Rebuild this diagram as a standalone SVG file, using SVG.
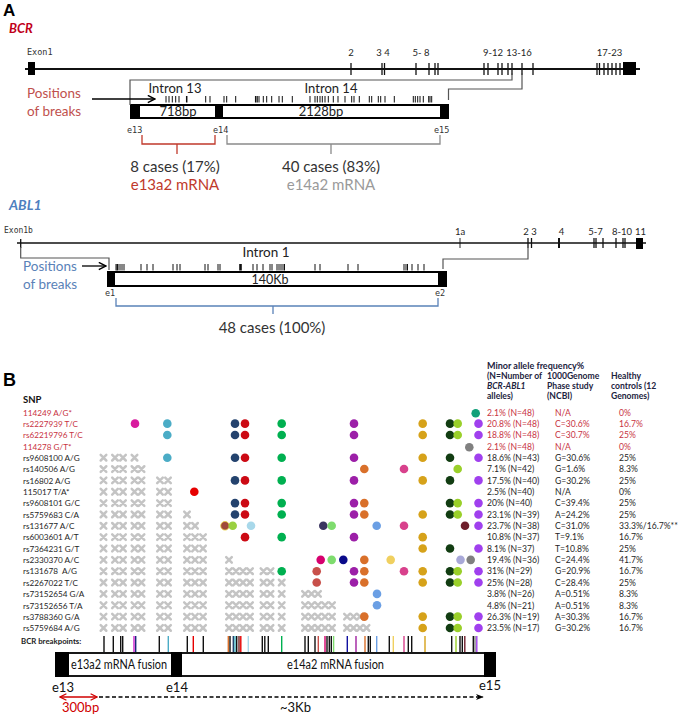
<svg xmlns="http://www.w3.org/2000/svg" xmlns:xlink="http://www.w3.org/1999/xlink" width="685" height="716" viewBox="0 0 685 716">
<style>
text{font-family:Lato,"Liberation Sans",sans-serif;fill:#262626}
.pl{font-family:"Liberation Sans",Arial,sans-serif;font-weight:bold;font-size:17px;fill:#000}
.mono{font-family:"DejaVu Sans Mono","Liberation Mono",monospace;font-size:8.5px;fill:#333}
.exl{font-size:9.5px;fill:#222}
.big{font-size:15px;fill:#333}
.mid{font-size:13px;fill:#222}
.red{fill:#c0392b}
.bred{fill:#c0504d}
.blu{fill:#5a82b8}
.gry{fill:#9a9a9a}
.snp{font-size:8.6px;fill:#1c2340}
.snp.r{fill:#c8333f}
.nm{font-size:8.2px}
.hd{font-size:8.6px;font-weight:bold;fill:#1c2340}
.gene{stroke:#111;fill:none}
.tk{stroke:#111;stroke-width:1.3}
.bt{stroke:#111;stroke-width:1}
.conn{stroke:#555;stroke-width:1.2;fill:none}
.box{fill:#fff;stroke:#000;stroke-width:2}
.blk{fill:#000}
.mg{fill:#d81b9e}.tb{fill:#4bacc6}.nv{fill:#24436e}.rd{fill:#cc0a14}.rd2{fill:#e60000}.gr{fill:#00b050}
.pu{fill:#9c1fa8}.or{fill:#d9702a}.pk{fill:#d8418c}.gd{fill:#d6a21a}.dg{fill:#123d12}.yg{fill:#9ad02a}
.vi{fill:#a040ee}.gy{fill:#808080}.tg{fill:#12a07a}.bn{fill:#a04a3c}.lm{fill:#9ad040}.lb{fill:#a8d8ea}
.ds{fill:#3a3560}.lg{fill:#7edc6e}.cf{fill:#6b9fe4}.mr{fill:#6e1f2c}.cr{fill:#d6006e}.nd{fill:#0a0a8a}
.py{fill:#f0d060}.lv{fill:#a8a8d8}.sa{fill:#c8504a}
</style>
<defs>
<marker id="ah" viewBox="0 0 10 10" refX="9" refY="5" markerWidth="9" markerHeight="9" orient="auto" markerUnits="userSpaceOnUse"><path d="M1,1 L9,5 L1,9" fill="none" stroke="#000" stroke-width="1.6"/></marker>
<marker id="ahr" viewBox="0 0 10 10" refX="9" refY="5" markerWidth="8" markerHeight="8" orient="auto-start-reverse" markerUnits="userSpaceOnUse"><path d="M1,1 L9,5 L1,9" fill="none" stroke="#d00000" stroke-width="1.6"/></marker>
<marker id="ahf" viewBox="0 0 10 10" refX="9" refY="5" markerWidth="8" markerHeight="8" orient="auto" markerUnits="userSpaceOnUse"><path d="M0,1 L10,5 L0,9 L3,5 Z" fill="#000"/></marker>
<path id="x" d="M-2.8,-2.8L2.8,2.8M2.8,-2.8L-2.8,2.8" stroke="#c4c4c4" stroke-width="2.5" stroke-linecap="round" fill="none"/>
<g id="X4"><use xlink:href="#x" x="103.5"/><use xlink:href="#x" x="115"/><use xlink:href="#x" x="123"/><use xlink:href="#x" x="134.5"/></g>
<g id="X5"><use xlink:href="#X4"/><use xlink:href="#x" x="141.5"/></g>
<g id="X7"><use xlink:href="#X5"/><use xlink:href="#x" x="160"/><use xlink:href="#x" x="168"/></g>
<g id="X8"><use xlink:href="#X7"/><use xlink:href="#x" x="187"/></g>
<g id="X9"><use xlink:href="#X8"/><use xlink:href="#x" x="195"/></g>
<g id="X10"><use xlink:href="#X9"/><use xlink:href="#x" x="203"/></g>
<g id="X11"><use xlink:href="#X10"/><use xlink:href="#x" x="229"/></g>
<g id="X16"><use xlink:href="#X11"/><use xlink:href="#x" x="236"/><use xlink:href="#x" x="243"/><use xlink:href="#x" x="250"/><use xlink:href="#x" x="263.5"/><use xlink:href="#x" x="270.5"/></g>
<g id="X17"><use xlink:href="#X16"/><use xlink:href="#x" x="281.7"/></g>
<g id="X20"><use xlink:href="#X17"/><use xlink:href="#x" x="305"/><use xlink:href="#x" x="311.5"/><use xlink:href="#x" x="318"/></g>
<g id="X22"><use xlink:href="#X20"/><use xlink:href="#x" x="325"/><use xlink:href="#x" x="332"/></g>
<g id="X25"><use xlink:href="#X22"/><use xlink:href="#x" x="347"/><use xlink:href="#x" x="353.5"/><use xlink:href="#x" x="360"/></g>
<g id="X26"><use xlink:href="#X25"/><use xlink:href="#x" x="366.5"/></g>
</defs>
<rect width="685" height="716" fill="#fff"/>

<!-- ================= PANEL A ================= -->
<text class="pl" x="3" y="16">A</text>
<g id="bcr-title"><text x="9" y="33" style="font-size:13px;font-weight:bold;font-style:italic;fill:#c0001a">BCR</text></g>

<g id="bcr-gene">
<line class="gene" x1="25" y1="69" x2="640" y2="69" stroke-width="2"/>
<rect class="blk" x="28" y="62" width="7" height="13"/>
<rect class="blk" x="623" y="62" width="13" height="13"/>
<g class="tk">
<line x1="351" y1="63" x2="351" y2="75"/><line x1="382" y1="63" x2="382" y2="75"/><line x1="384.5" y1="63" x2="384.5" y2="75"/>
<line x1="416" y1="63" x2="416" y2="75"/><line x1="429" y1="63" x2="429" y2="75"/><line x1="435" y1="63" x2="435" y2="75"/><line x1="438" y1="63" x2="438" y2="75"/>
<line x1="484" y1="63" x2="484" y2="75"/><line x1="488" y1="63" x2="488" y2="75"/><line x1="498" y1="63" x2="498" y2="75"/><line x1="502" y1="63" x2="502" y2="75"/><line x1="508" y1="63" x2="508" y2="75"/><line x1="512" y1="63" x2="512" y2="75"/>
<line x1="522" y1="63" x2="522" y2="75"/><line x1="533" y1="63" x2="533" y2="75"/>
<line x1="597" y1="63" x2="597" y2="75"/><line x1="599.5" y1="63" x2="599.5" y2="75"/><line x1="604" y1="63" x2="604" y2="75"/><line x1="608" y1="63" x2="608" y2="75"/><line x1="612" y1="63" x2="612" y2="75"/><line x1="616" y1="63" x2="616" y2="75"/><line x1="620" y1="63" x2="620" y2="75"/>
</g>
<text class="mono" x="27" y="55">Exon1</text>
<g class="exl" text-anchor="middle">
<text x="351" y="56">2</text><text x="383" y="56">3 4</text><text x="421" y="56">5- 8</text><text x="493" y="56">9-12</text><text x="519" y="56">13-16</text><text x="609.5" y="56">17-23</text>
</g>
</g>

<g id="bcr-intron-box">
<rect class="box" x="131" y="105" width="317" height="13"/>
<rect class="blk" x="130" y="104" width="10" height="15"/>
<rect class="blk" x="215" y="104" width="8" height="15"/>
<rect class="blk" x="440" y="104" width="9" height="15"/>
<text class="mid" x="178" y="115.5" text-anchor="middle">718bp</text>
<text class="mid" x="321" y="115.5" text-anchor="middle">2128bp</text>
<text class="mid" x="175" y="93" text-anchor="middle">Intron 13</text>
<text class="mid" x="331" y="93" text-anchor="middle">Intron 14</text>
<g class="bt">
<line x1="166" y1="96" x2="166" y2="102.5"/><line x1="169" y1="96" x2="169" y2="102.5"/><line x1="172.3" y1="96" x2="172.3" y2="102.5"/><line x1="175.7" y1="96" x2="175.7" y2="102.5"/><line x1="179" y1="96" x2="179" y2="102.5"/><line x1="186.7" y1="96" x2="186.7" y2="102.5" stroke-width="1.5"/>
<line x1="205.7" y1="96" x2="205.7" y2="102.5"/><line x1="210" y1="96" x2="210" y2="102.5"/><line x1="224" y1="96" x2="224" y2="102.5"/><line x1="226.7" y1="96" x2="226.7" y2="102.5"/><line x1="235.7" y1="96" x2="235.7" y2="102.5"/>
<line x1="255.7" y1="96" x2="255.7" y2="102.5" stroke-width="1.5"/><line x1="257.3" y1="96" x2="257.3" y2="102.5"/><line x1="259" y1="96" x2="259" y2="102.5"/><line x1="263.3" y1="96" x2="263.3" y2="102.5"/><line x1="266.7" y1="96" x2="266.7" y2="102.5"/><line x1="271.7" y1="96" x2="271.7" y2="102.5"/>
<line x1="279" y1="96" x2="279" y2="102.5"/><line x1="282.3" y1="96" x2="282.3" y2="102.5"/><line x1="292.3" y1="96" x2="292.3" y2="102.5"/>
<line x1="310" y1="96" x2="310" y2="102.5"/><line x1="315" y1="96" x2="315" y2="102.5"/><line x1="317.3" y1="96" x2="317.3" y2="102.5"/><line x1="320" y1="96" x2="320" y2="102.5"/><line x1="322.3" y1="96" x2="322.3" y2="102.5"/><line x1="325" y1="96" x2="325" y2="102.5"/><line x1="328.3" y1="96" x2="328.3" y2="102.5"/>
<line x1="333.3" y1="96" x2="333.3" y2="102.5"/><line x1="338" y1="96" x2="338" y2="102.5"/><line x1="345" y1="96" x2="345" y2="102.5"/><line x1="351.7" y1="96" x2="351.7" y2="102.5"/><line x1="354" y1="96" x2="354" y2="102.5"/><line x1="359.3" y1="96" x2="359.3" y2="102.5"/>
<line x1="369.3" y1="96" x2="369.3" y2="102.5"/><line x1="371.7" y1="96" x2="371.7" y2="102.5"/><line x1="378.3" y1="96" x2="378.3" y2="102.5"/><line x1="380.7" y1="96" x2="380.7" y2="102.5"/><line x1="385" y1="96" x2="385" y2="102.5"/><line x1="394.3" y1="96" x2="394.3" y2="102.5"/>
<line x1="413.3" y1="96" x2="413.3" y2="102.5"/><line x1="415.3" y1="96" x2="415.3" y2="102.5"/><line x1="417.7" y1="96" x2="417.7" y2="102.5"/><line x1="420" y1="96" x2="420" y2="102.5"/><line x1="423.3" y1="96" x2="423.3" y2="102.5"/><line x1="428.7" y1="96" x2="428.7" y2="102.5"/><line x1="430" y1="96" x2="430" y2="102.5"/><line x1="431.7" y1="96" x2="431.7" y2="102.5"/>
</g>
<text class="mono" x="127" y="133">e13</text>
<text class="mono" x="213" y="133">e14</text>
<text class="mono" x="434" y="133">e15</text>
</g>

<g id="bcr-positions"><text class="bred" x="27" y="98" style="font-size:13.5px">Positions</text><text class="bred" x="27" y="116" style="font-size:13.5px">of breaks</text></g>

<g id="bcr-e13a2">
<text class="big" x="175" y="172" text-anchor="middle">8 cases (17%)</text>
<text class="big red" x="175" y="190" text-anchor="middle">e13a2 mRNA</text>
</g>
<g id="bcr-e14a2">
<text class="big" x="331" y="172" text-anchor="middle">40 cases (83%)</text>
<text class="big gry" x="331" y="190" text-anchor="middle">e14a2 mRNA</text>
</g>

<!-- ABL1 -->
<g id="abl-title"><text x="9" y="210" style="font-size:14px;font-weight:bold;font-style:italic;fill:#4f7fbf">ABL1</text></g>
<g id="abl-gene">
<line class="gene" x1="17" y1="243" x2="646" y2="243" stroke-width="1.3"/>
<line class="tk" x1="20.7" y1="239" x2="20.7" y2="248" stroke-width="1"/>
<rect class="blk" x="636" y="238" width="7" height="11"/>
<g class="tk">
<line x1="460" y1="238" x2="460" y2="248" stroke-width="0.9"/>
<line x1="528" y1="238" x2="528" y2="248"/><line x1="531.5" y1="238" x2="531.5" y2="248"/>
<line x1="559" y1="238" x2="559" y2="248" stroke-width="2"/>
<line x1="594" y1="238" x2="594" y2="248"/><line x1="596" y1="238" x2="596" y2="248"/><line x1="603" y1="238" x2="603" y2="248"/>
<line x1="616" y1="238" x2="616" y2="248"/><line x1="623" y1="238" x2="623" y2="248"/><line x1="625" y1="238" x2="625" y2="248"/>
</g>
<text class="mono" x="4" y="233" style="font-size:8px">Exon1b</text>
<g class="exl" text-anchor="middle">
<text x="460" y="235">1a</text><text x="530" y="235">2 3</text><text x="561.5" y="235">4</text><text x="595.5" y="235">5-7</text><text x="622" y="235">8-10</text><text x="640.5" y="235">11</text>
</g>
</g>

<g id="abl-intron-box">
<rect class="box" x="108" y="272" width="338" height="14"/>
<rect class="blk" x="107" y="271" width="8" height="16"/>
<rect class="blk" x="438" y="271" width="9" height="16"/>
<text class="mid" x="266" y="257" text-anchor="middle" style="font-size:13.5px">Intron 1</text>
<text class="mid" x="270" y="284" text-anchor="middle" style="font-size:12.5px">140Kb</text>
<g class="bt">
<line x1="116" y1="264" x2="116" y2="270.5"/><line x1="117.5" y1="264" x2="117.5" y2="270.5" stroke-width="2"/><line x1="120" y1="264" x2="120" y2="270.5"/><line x1="122" y1="264" x2="122" y2="270.5"/><line x1="124" y1="264" x2="124" y2="270.5"/>
<line x1="141" y1="264" x2="141" y2="270.5"/><line x1="147" y1="264" x2="147" y2="270.5"/><line x1="153" y1="264" x2="153" y2="270.5"/>
<line x1="173" y1="264" x2="173" y2="270.5"/><line x1="177" y1="264" x2="177" y2="270.5"/><line x1="180" y1="264" x2="180" y2="270.5"/>
<line x1="205" y1="264" x2="205" y2="270.5"/><line x1="208" y1="264" x2="208" y2="270.5"/><line x1="218" y1="264" x2="218" y2="270.5"/><line x1="220" y1="264" x2="220" y2="270.5"/>
<line x1="240.5" y1="264" x2="240.5" y2="270.5" stroke-width="2.6"/>
<line x1="253" y1="264" x2="253" y2="270.5"/><line x1="257" y1="264" x2="257" y2="270.5"/><line x1="263" y1="264" x2="263" y2="270.5"/><line x1="270" y1="264" x2="270" y2="270.5"/><line x1="272" y1="264" x2="272" y2="270.5"/>
<line x1="277" y1="264" x2="277" y2="270.5"/><line x1="279" y1="264" x2="279" y2="270.5"/><line x1="281" y1="264" x2="281" y2="270.5"/><line x1="283" y1="264" x2="283" y2="270.5"/><line x1="284.5" y1="264" x2="284.5" y2="270.5"/>
<line x1="315" y1="264" x2="315" y2="270.5"/><line x1="320" y1="264" x2="320" y2="270.5"/><line x1="348" y1="264" x2="348" y2="270.5"/><line x1="358" y1="264" x2="358" y2="270.5"/>
<line x1="404" y1="264" x2="404" y2="270.5"/><line x1="406" y1="264" x2="406" y2="270.5"/><line x1="407.5" y1="264" x2="407.5" y2="270.5"/><line x1="412" y1="264" x2="412" y2="270.5"/><line x1="418" y1="264" x2="418" y2="270.5"/><line x1="424" y1="264" x2="424" y2="270.5"/>
</g>
<text class="mono" x="105" y="296">e1</text>
<text class="mono" x="435" y="296">e2</text>
</g>
<g id="abl-positions"><text class="blu" x="23" y="271" style="font-size:13.5px">Positions</text><text class="blu" x="23" y="289" style="font-size:13.5px">of breaks</text></g>
<g id="abl-cases"><text class="big" x="272" y="333" text-anchor="middle">48 cases (100%)</text></g>

<g id="connectors-A">
<path class="conn" d="M130,105 V80 H512 V73"/>
<path class="conn" d="M522,73 V89 H448.5 V100"/>
<line x1="92" y1="99" x2="155" y2="99" stroke="#000" stroke-width="1.3" marker-end="url(#ah)"/>
<path d="M142,135 V144 H215 V135 M177,144 V154" fill="none" stroke="#c0392b" stroke-width="1.3"/>
<path d="M227,135 V144 H440 V135 M331,144 V154" fill="none" stroke="#8a8a8a" stroke-width="1.3"/>
<path class="conn" d="M20.7,247 V258 H109 V270"/>
<path class="conn" d="M528,248 V259 H443 V269"/>
<line x1="82" y1="266" x2="106" y2="266" stroke="#000" stroke-width="1.3" marker-end="url(#ah)"/>
<path d="M116,298 V306 H438 V298 M273,306 V314" fill="none" stroke="#5a82b8" stroke-width="1.3"/>
</g>

<!-- ================= PANEL B ================= -->
<text class="pl" x="3" y="386" style="font-size:18px">B</text>
<g id="snp-list">
<text x="23" y="403" style="font-size:9.5px;font-weight:bold;fill:#111">SNP</text>
<g class="snp nm">
<text class="snp nm r" x="23" y="415.5">114249 A/G*</text>
<text class="snp nm r" x="23" y="426.9">rs2227939 T/C</text>
<text class="snp nm r" x="23" y="438.2">rs62219796 T/C</text>
<text class="snp nm r" x="23" y="449.6">114278 G/T*</text>
<text x="23" y="460.9">rs9608100 A/G</text>
<text x="23" y="472.3">rs140506 A/G</text>
<text x="23" y="483.6">rs16802 A/G</text>
<text x="23" y="495">115017 T/A*</text>
<text x="23" y="506.3">rs9608101 G/C</text>
<text x="23" y="517.7">rs5759683 C/A</text>
<text x="23" y="529">rs131677 A/C</text>
<text x="23" y="540.4">rs6003601 A/T</text>
<text x="23" y="551.7">rs7364231 G/T</text>
<text x="23" y="563.1">rs2330370 A/C</text>
<text x="23" y="574.4" xml:space="preserve">rs131678  A/G</text>
<text x="23" y="585.8">rs2267022 T/C</text>
<text x="23" y="597.1">rs73152654 G/A</text>
<text x="23" y="608.5">rs73152656 T/A</text>
<text x="23" y="619.8">rs3788360 G/A</text>
<text x="23" y="631.2">rs5759684 A/G</text>
</g>
</g>

<g id="cross-marks">
<use xlink:href="#X4" y="457.7"/>
<use xlink:href="#X5" y="469.05"/>
<use xlink:href="#X7" y="480.4"/>
<use xlink:href="#X7" y="491.75"/>
<use xlink:href="#X7" y="503.1"/>
<use xlink:href="#X8" y="514.45"/>
<use xlink:href="#X9" y="525.8"/>
<use xlink:href="#X10" y="537.15"/>
<use xlink:href="#X10" y="548.5"/>
<use xlink:href="#X11" y="559.85"/>
<use xlink:href="#X16" y="571.2"/>
<use xlink:href="#X17" y="582.55"/>
<use xlink:href="#X20" y="593.9"/>
<use xlink:href="#X22" y="605.25"/>
<use xlink:href="#X25" y="616.6"/>
<use xlink:href="#X26" y="627.95"/>
</g>

<g id="snp-dots">
<circle class="tg" cx="475.7" cy="413.3" r="4.3"/>
<g transform="translate(0,423.65)">
<circle class="mg" cx="135" r="4.3"/><circle class="tb" cx="167.3" r="4.3"/><circle class="nv" cx="235" r="4.3"/><circle class="rd" cx="245" r="4.3"/><circle class="gr" cx="281.7" r="4.3"/><circle class="pu" cx="354" r="4.3"/><circle class="gd" cx="422.7" r="4.3"/><circle class="dg" cx="450" r="4.3"/><circle class="yg" cx="457.7" r="4.3"/><circle class="vi" cx="478.5" r="4.3"/>
</g>
<g transform="translate(0,435)">
<circle class="tb" cx="167.3" r="4.3"/><circle class="nv" cx="235" r="4.3"/><circle class="rd" cx="245" r="4.3"/><circle class="gr" cx="281.7" r="4.3"/><circle class="pu" cx="354" r="4.3"/><circle class="gd" cx="422.7" r="4.3"/><circle class="dg" cx="450" r="4.3"/><circle class="yg" cx="457.7" r="4.3"/><circle class="vi" cx="478.5" r="4.3"/>
</g>
<circle class="gy" cx="469.3" cy="447.3" r="4.3"/>
<g transform="translate(0,457.7)">
<circle class="tb" cx="167.3" r="4.3"/><circle class="nv" cx="235" r="4.3"/><circle class="rd" cx="245" r="4.3"/><circle class="gr" cx="281.7" r="4.3"/><circle class="pu" cx="354" r="4.3"/><circle class="gd" cx="422.7" r="4.3"/><circle class="dg" cx="450" r="4.3"/><circle class="vi" cx="478.5" r="4.3"/>
</g>
<g transform="translate(0,469.05)">
<circle class="or" cx="364.3" r="4.3"/><circle class="pk" cx="404" r="4.3"/><circle class="yg" cx="457.7" r="4.3"/>
</g>
<g transform="translate(0,480.4)">
<circle class="nv" cx="235" r="4.3"/><circle class="rd" cx="245" r="4.3"/><circle class="gr" cx="281.7" r="4.3"/><circle class="pu" cx="354" r="4.3"/><circle class="gd" cx="422.7" r="4.3"/><circle class="dg" cx="450" r="4.3"/><circle class="vi" cx="478.5" r="4.3"/>
</g>
<circle class="rd2" cx="194.3" cy="491.75" r="4.3"/>
<g transform="translate(0,503.1)">
<circle class="nv" cx="235" r="4.3"/><circle class="rd" cx="245" r="4.3"/><circle class="gr" cx="281.7" r="4.3"/><circle class="pu" cx="354" r="4.3"/><circle class="or" cx="364.3" r="4.3"/><circle class="dg" cx="450" r="4.3"/><circle class="yg" cx="457.7" r="4.3"/><circle class="vi" cx="478.5" r="4.3"/>
</g>
<g transform="translate(0,514.45)">
<circle class="nv" cx="235" r="4.3"/><circle class="rd" cx="245" r="4.3"/><circle class="gr" cx="281.7" r="4.3"/><circle class="pu" cx="354" r="4.3"/><circle class="or" cx="364.3" r="4.3"/><circle class="gd" cx="422.7" r="4.3"/><circle class="dg" cx="450" r="4.3"/><circle class="yg" cx="457.7" r="4.3"/><circle class="vi" cx="478.5" r="4.3"/>
</g>
<g transform="translate(0,525.8)">
<circle class="bn" cx="225" r="4.3" stroke="#e8d040" stroke-width="0.8"/><circle class="lm" cx="232.7" r="4.3"/><circle class="lb" cx="251" r="4.3"/><circle class="ds" cx="323.3" r="4.3"/><circle class="lg" cx="331.7" r="4.3"/><circle class="cf" cx="376.7" r="4.3"/><circle class="pk" cx="404" r="4.3"/><circle class="mr" cx="465" r="4.3"/><circle class="vi" cx="478.5" r="4.3"/>
</g>
<g transform="translate(0,537.15)">
<circle class="rd" cx="245" r="4.3"/><circle class="gr" cx="281.7" r="4.3"/><circle class="pu" cx="354" r="4.3"/><circle class="gd" cx="422.7" r="4.3"/>
</g>
<g transform="translate(0,548.5)">
<circle class="gd" cx="422.7" r="4.3"/><circle class="dg" cx="450" r="4.3"/><circle class="vi" cx="478.5" r="4.3"/>
</g>
<g transform="translate(0,559.85)">
<circle class="cr" cx="320.7" r="4.3"/><circle class="lg" cx="331.7" r="4.3"/><circle class="nd" cx="343.3" r="4.3"/><circle class="or" cx="364.3" r="4.3"/><circle class="py" cx="390.7" r="4.3"/><circle class="lv" cx="460.5" r="4.3"/><circle class="gy" cx="470.7" r="4.3"/>
</g>
<g transform="translate(0,571.2)">
<circle class="gr" cx="281.7" r="4.3"/><circle class="sa" cx="316.7" r="4.3"/><circle class="pu" cx="354" r="4.3"/><circle class="or" cx="364.3" r="4.3"/><circle class="pk" cx="404" r="4.3"/><circle class="gd" cx="422.7" r="4.3"/><circle class="dg" cx="450" r="4.3"/><circle class="yg" cx="457.7" r="4.3"/><circle class="vi" cx="478.5" r="4.3"/>
</g>
<g transform="translate(0,582.55)">
<circle class="sa" cx="316.7" r="4.3"/><circle class="pu" cx="354" r="4.3"/><circle class="or" cx="364.3" r="4.3"/><circle class="gd" cx="422.7" r="4.3"/><circle class="dg" cx="450" r="4.3"/><circle class="yg" cx="457.7" r="4.3"/><circle class="vi" cx="478.5" r="4.3"/>
</g>
<circle class="cf" cx="377" cy="593.9" r="4.3"/>
<circle class="cf" cx="377" cy="605.25" r="4.3"/>
<g transform="translate(0,616.6)">
<circle class="or" cx="364.3" r="4.3"/><circle class="gd" cx="422.7" r="4.3"/><circle class="dg" cx="450" r="4.3"/><circle class="yg" cx="457.7" r="4.3"/><circle class="vi" cx="478.5" r="4.3"/>
</g>
<g transform="translate(0,627.95)">
<circle class="gd" cx="422.7" r="4.3"/><circle class="dg" cx="450" r="4.3"/><circle class="yg" cx="457.7" r="4.3"/><circle class="vi" cx="478.5" r="4.3"/>
</g>
</g>

<g id="freq-table">
<text class="hd" x="487" y="369" style="font-size:9px">Minor allele frequency%</text>
<text class="hd" x="487" y="379">(N=Number of</text>
<text class="hd" x="487" y="389" style="font-style:italic">BCR-ABL1</text>
<text class="hd" x="487" y="399">alleles)</text>
<text class="hd" x="547" y="379">1000Genome</text>
<text class="hd" x="547" y="389">Phase study</text>
<text class="hd" x="547" y="399">(NCBI)</text>
<text class="hd" x="611" y="379">Healthy</text>
<text class="hd" x="611" y="389">controls (12</text>
<text class="hd" x="611" y="399">Genomes)</text>
<g class="snp">
<text class="snp r" x="487" y="415.5">2.1% (N=48)</text><text class="snp r" x="555" y="415.5">N/A</text><text class="snp r" x="619" y="415.5">0%</text>
<text class="snp r" x="487" y="426.9">20.8% (N=48)</text><text class="snp r" x="555" y="426.9">C=30.6%</text><text class="snp r" x="619" y="426.9">16.7%</text>
<text class="snp r" x="487" y="438.2">18.8% (N=48)</text><text class="snp r" x="555" y="438.2">C=30.7%</text><text class="snp r" x="619" y="438.2">25%</text>
<text class="snp r" x="487" y="449.6">2.1% (N=48)</text><text class="snp r" x="555" y="449.6">N/A</text><text class="snp r" x="619" y="449.6">0%</text>
<text x="487" y="460.9">18.6% (N=43)</text><text x="555" y="460.9">G=30.6%</text><text x="619" y="460.9">25%</text>
<text x="487" y="472.3">7.1% (N=42)</text><text x="555" y="472.3">G=1.6%</text><text x="619" y="472.3">8.3%</text>
<text x="487" y="483.6">17.5% (N=40)</text><text x="555" y="483.6">G=30.2%</text><text x="619" y="483.6">25%</text>
<text x="487" y="495">2.5% (N=40)</text><text x="555" y="495">N/A</text><text x="619" y="495">0%</text>
<text x="487" y="506.3">20% (N=40)</text><text x="555" y="506.3">C=39.4%</text><text x="619" y="506.3">25%</text>
<text x="487" y="517.7">23.1% (N=39)</text><text x="555" y="517.7">A=24.2%</text><text x="619" y="517.7">25%</text>
<text x="487" y="529">23.7% (N=38)</text><text x="555" y="529">C=31.0%</text><text x="619" y="529">33.3%/16.7%**</text>
<text x="487" y="540.4">10.8% (N=37)</text><text x="555" y="540.4">T=9.1%</text><text x="619" y="540.4">16.7%</text>
<text x="487" y="551.7">8.1% (N=37)</text><text x="555" y="551.7">T=10.8%</text><text x="619" y="551.7">25%</text>
<text x="487" y="563.1">19.4% (N=36)</text><text x="555" y="563.1">C=24.4%</text><text x="619" y="563.1">41.7%</text>
<text x="487" y="574.4">31% (N=29)</text><text x="555" y="574.4">G=20.9%</text><text x="619" y="574.4">16.7%</text>
<text x="487" y="585.8">25% (N=28)</text><text x="555" y="585.8">C=28.4%</text><text x="619" y="585.8">25%</text>
<text x="487" y="597.1">3.8% (N=26)</text><text x="555" y="597.1">A=0.51%</text><text x="619" y="597.1">8.3%</text>
<text x="487" y="608.5">4.8% (N=21)</text><text x="555" y="608.5">A=0.51%</text><text x="619" y="608.5">8.3%</text>
<text x="487" y="619.8">26.3% (N=19)</text><text x="555" y="619.8">A=30.3%</text><text x="619" y="619.8">16.7%</text>
<text x="487" y="631.2">23.5% (N=17)</text><text x="555" y="631.2">G=30.2%</text><text x="619" y="631.2">16.7%</text>
</g>
</g>

<g id="bcr-breakpoints">
<text x="21" y="644" style="font-size:7.8px;font-weight:bold;fill:#222">BCR breakpoints:</text>
<g stroke-width="1.4">
<g stroke="#111">
<line x1="104" y1="636" x2="104" y2="652"/><line x1="113.3" y1="636" x2="113.3" y2="652"/><line x1="120.7" y1="636" x2="120.7" y2="652"/><line x1="122.7" y1="636" x2="122.7" y2="652"/>
<line x1="159.3" y1="636" x2="159.3" y2="652"/><line x1="187.3" y1="636" x2="187.3" y2="652"/><line x1="203.3" y1="636" x2="203.3" y2="652"/>
<line x1="230" y1="636" x2="230" y2="652"/><line x1="236.7" y1="636" x2="236.7" y2="652"/>
<line x1="262.3" y1="636" x2="262.3" y2="652"/><line x1="264.8" y1="636" x2="264.8" y2="652"/><line x1="268.3" y1="636" x2="268.3" y2="652"/>
<line x1="305" y1="636" x2="305" y2="652"/><line x1="308.3" y1="636" x2="308.3" y2="652"/><line x1="315" y1="636" x2="315" y2="652"/>
<line x1="327" y1="636" x2="327" y2="652"/><line x1="329.3" y1="636" x2="329.3" y2="652"/><line x1="331.3" y1="636" x2="331.3" y2="652"/>
<line x1="368.3" y1="636" x2="368.3" y2="652"/><line x1="370.3" y1="636" x2="370.3" y2="652"/><line x1="389.3" y1="636" x2="389.3" y2="652"/>
<line x1="408.3" y1="636" x2="408.3" y2="652"/><line x1="411.7" y1="636" x2="411.7" y2="652"/>
<line x1="451.7" y1="636" x2="451.7" y2="652"/><line x1="460" y1="636" x2="460" y2="652"/><line x1="462.3" y1="636" x2="462.3" y2="652"/><line x1="473.3" y1="636" x2="473.3" y2="652"/>
</g>
<line x1="134" y1="636" x2="134" y2="652" stroke="#cc22cc"/><line x1="135.7" y1="636" x2="135.7" y2="652" stroke="#1a2a7a"/>
<line x1="168.3" y1="636" x2="168.3" y2="652" stroke="#4bacc6"/>
<line x1="193.3" y1="636" x2="193.3" y2="652" stroke="#e60000"/>
<line x1="228.3" y1="636" x2="228.3" y2="652" stroke="#d9702a"/>
<line x1="233.3" y1="636" x2="233.3" y2="652" stroke="#24436e"/><line x1="235" y1="636" x2="235" y2="652" stroke="#3aa8b8"/>
<line x1="239" y1="636" x2="239" y2="652" stroke="#7a1a1a"/><line x1="240.8" y1="636" x2="240.8" y2="652" stroke="#e60000"/>
<line x1="248.3" y1="636" x2="248.3" y2="652" stroke="#a8d8ea"/>
<line x1="281.7" y1="636" x2="281.7" y2="652" stroke="#00b050"/>
<line x1="318.3" y1="636" x2="318.3" y2="652" stroke="#c8504a"/>
<line x1="325" y1="636" x2="325" y2="652" stroke="#d6006e"/>
<line x1="333.6" y1="636" x2="333.6" y2="652" stroke="#7edc6e"/>
<line x1="347.3" y1="636" x2="347.3" y2="652" stroke="#1010a0"/>
<line x1="356" y1="636" x2="356" y2="652" stroke="#a020a0"/>
<line x1="365" y1="636" x2="365" y2="652" stroke="#d9702a"/>
<line x1="376.7" y1="636" x2="376.7" y2="652" stroke="#6b9fe4"/>
<line x1="393.3" y1="636" x2="393.3" y2="652" stroke="#f0d060"/>
<line x1="404" y1="636" x2="404" y2="652" stroke="#d8418c"/>
<line x1="425" y1="636" x2="425" y2="652" stroke="#d6a21a"/>
<line x1="456" y1="636" x2="456" y2="652" stroke="#9ad02a"/>
<line x1="464.8" y1="636" x2="464.8" y2="652" stroke="#6e1f2c"/>
<line x1="475" y1="636" x2="475" y2="652" stroke="#808080"/>
<line x1="476.8" y1="636" x2="476.8" y2="652" stroke="#a040ee"/>
</g>
</g>

<g id="fusion-box">
<rect x="56" y="653" width="439" height="23" fill="#fff" stroke="#000" stroke-width="1.8"/>
<rect class="blk" x="55" y="652" width="14" height="25"/>
<rect class="blk" x="171" y="652" width="11" height="25"/>
<rect class="blk" x="484" y="652" width="12" height="25"/>
<text x="71" y="669" textLength="96" lengthAdjust="spacingAndGlyphs" style="font-size:13.5px;fill:#111">e13a2 mRNA fusion</text>
<text x="287" y="669" textLength="97" lengthAdjust="spacingAndGlyphs" style="font-size:13.5px;fill:#111">e14a2 mRNA fusion</text>
<text x="52" y="692" style="font-size:13px;fill:#111">e13</text>
<text x="166" y="692" style="font-size:13px;fill:#111">e14</text>
<text x="479" y="690" style="font-size:13px;fill:#111">e15</text>
</g>

<g id="connectors-B">
<line x1="60" y1="697" x2="97" y2="697" stroke="#d00000" stroke-width="1.4" marker-start="url(#ahr)" marker-end="url(#ahr)"/>
<line x1="99" y1="697" x2="483" y2="697" stroke="#000" stroke-width="1.3" stroke-dasharray="4,2.5" marker-end="url(#ahf)"/>
</g>
<text x="62" y="712" style="font-size:13px;fill:#d00000">300bp</text>
<text x="280" y="712" style="font-size:13px;fill:#111">~3Kb</text>
</svg>
